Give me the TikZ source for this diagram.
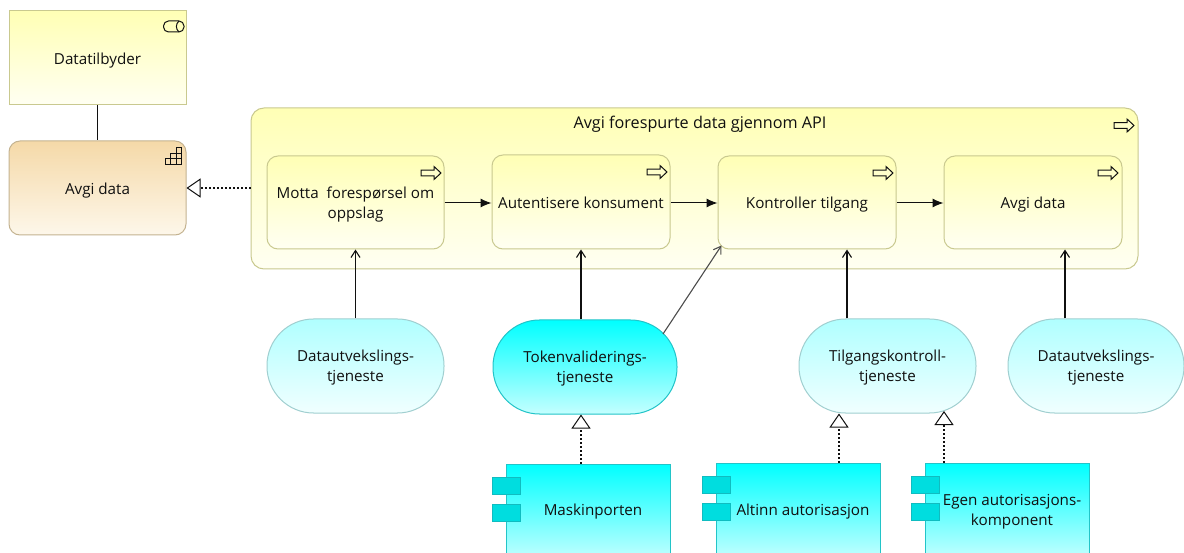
\documentclass[tikz,border=0pt]{standalone}
\usepackage{fontspec}
\setmainfont{Open Sans}
\usetikzlibrary{arrows.meta,calc}
\definecolor{yt}{HTML}{FFFFB5}
\definecolor{yb}{HTML}{FFFFF2}
\definecolor{yl}{HTML}{C9C98F}
\definecolor{ot}{HTML}{F5D9A8}
\definecolor{ob}{HTML}{FDF7EA}
\definecolor{ol}{HTML}{C4B391}
\definecolor{ct}{HTML}{00FFFF}
\definecolor{cb}{HTML}{C4FFFF}
\definecolor{cl}{HTML}{22C4C8}
\definecolor{pt}{HTML}{B0FFFF}
\definecolor{pb}{HTML}{F0FFFF}
\definecolor{pl}{HTML}{A0CFD0}
\definecolor{tabf}{HTML}{00DDDF}
\definecolor{tabl}{HTML}{10BCC0}
\definecolor{ink}{HTML}{101010}
\newcommand\lbl[2][-2.5pt]{\raisebox{#1}[\height][\depth]{\begin{tabular}{@{}c@{}}#2\end{tabular}}}
\tikzset{
  x=1pt,y=-1pt,
  every node/.style={font=\fontsize{15.2}{20}\selectfont,text=ink,inner sep=0pt},
  box/.style={draw=#1,line width=1pt,shape=rectangle},
  sized/.style n args={2}{minimum width=#1,minimum height=#2},
  yellowbox/.style={box=yl,top color=yt,bottom color=yb},
  orangebox/.style={box=ol,top color=ot,bottom color=ob,rounded corners=11pt},
  procbox/.style={yellowbox,rounded corners=11pt},
  palesvc/.style={box=pl,top color=pt,bottom color=pb,rounded corners=46.5pt},
  brightsvc/.style={box=cl,top color=ct,bottom color=cb,rounded corners=46.5pt},
  compbox/.style={box=cl,top color=ct,bottom color=cb},
  tabbox/.style={draw=tabl,fill=tabf,line width=1pt,minimum width=28pt,minimum height=17pt},
  conn/.style={draw=ink,line width=1.1pt},
  flowline/.style={conn,line width=1pt,-{Latex[length=11pt,width=9pt]}},
  serveline/.style={conn,-{Straight Barb[length=7pt,width=9pt]}},
  realizeline/.style={draw=ink,line width=1.1pt,dash pattern=on 2pt off 2pt,-{Triangle[open,fill=white,length=14pt,width=19pt,line width=1pt,sep=0pt]}},
  iconline/.style={draw=ink,line width=1pt},
  pics/procicon/.style={code={
    \draw[iconline,fill=yt!70!white,line join=miter]
      (0,3.7)--(13,3.7)--(13,0)--(20,6.5)--(13,13)--(13,9.3)--(0,9.3)--cycle;
  }}
}
\begin{document}
\begin{tikzpicture}
\useasboundingbox (0,0) rectangle (1184,553);
\begin{scope}
\clip (0,0) rectangle (1184,553);
% left
\node[yellowbox,sized={177pt}{94pt}] (prov) at (97.5,58) {\lbl{Datatilbyder}};
\node[orangebox,sized={177pt}{94pt}] (func) at (97.5,188) {\lbl{Avgi data}};
% outer process
\node[procbox,rounded corners=13pt,sized={887pt}{161pt}] (outer) at (694.5,188.5) {};
\node[font=\fontsize{16.2}{20}\selectfont] (outerlabel) at (700,122.5) {\lbl{Avgi forespurte data gjennom API}};
% inner processes
\node[procbox,sized={177pt}{93pt}] (motta) at (355.5,202.5) {\lbl{Motta\ \ forespørsel om\\oppslag}};
\node[procbox,sized={178pt}{94pt}] (auth) at (581,202) {\lbl{Autentisere konsument}};
\node[procbox,sized={178pt}{93pt}] (ctrl) at (807,202.5) {\lbl{Kontroller tilgang}};
\node[procbox,sized={178pt}{93pt}] (give) at (1033,202.5) {\lbl{Avgi data}};
% services
\node[palesvc,sized={177pt}{94pt}] (svca) at (355.5,366) {\lbl[-1.5pt]{Datautvekslings-\\tjeneste}};
\node[brightsvc,sized={184pt}{94pt}] (svcb) at (585,367) {\lbl[-1.5pt]{Tokenvaliderings-\\tjeneste}};
\node[palesvc,sized={177pt}{94pt}] (svcc) at (887.5,366) {\lbl[-1.5pt]{Tilgangskontroll-\\tjeneste}};
\node[palesvc,sized={176pt}{94pt}] (svcd) at (1096,366) {\lbl[-1.5pt]{Datautvekslings-\\tjeneste}};
% components
\node[compbox,sized={164pt}{96pt}] (maskin) at (588,512) {};
\node[compbox,sized={164pt}{96pt}] (altinn) at (798,511) {};
\node[compbox,sized={164pt}{96pt}] (egen) at (1007,511) {};
\foreach \n/\x/\y in {maskin/506/485.5,altinn/716/484.5,egen/925/484.5}{
  \node[tabbox] (\n tabone) at (\x,\y) {};
  \node[tabbox] (\n tabtwo) at (\x,\y+27) {};
}
\node (maskinlabel) at (593,508.5) {\lbl{Maskinporten}};
\node (altinnlabel) at (803,508.5) {\lbl{Altinn autorisasjon}};
\node (egenlabel) at (1012,508.5) {\lbl{Egen autorisasjons-\\komponent}};
\end{scope}
% connectors
\draw[conn] (prov.south) -- (func.north);
\draw[realizeline] (outer.west |- func.east) -- (func.east);
\draw[flowline] ([yshift=-.5pt]motta.east) -- ([yshift=-.5pt]auth.west |- motta.east);
\draw[flowline] ([yshift=-.5pt]auth.east |- motta.east) -- ([yshift=-.5pt]ctrl.west);
\draw[flowline] ([yshift=-.5pt]ctrl.east) -- ([yshift=-.5pt]give.west);
\draw[serveline] (svca.north) -- (motta.south);
\draw[serveline] (auth.south |- svcb.north) -- (auth.south);
\draw[serveline] ([xshift=40pt]ctrl.south |- svcc.north) -- ([xshift=40pt]ctrl.south);
\draw[serveline] ([xshift=32pt]give.south |- svcd.north) -- ([xshift=32pt]give.south);
\draw[serveline,draw=ink!75] ([shift={(78,-33)}]svcb.center) -- ([shift={(4,-4)}]ctrl.south west);
\draw[realizeline] (auth.south |- maskin.north) -- (auth.south |- svcb.south);
\draw[realizeline] ([xshift=41pt]altinn.north) -- ([xshift=41pt]altinn.north |- svcc.south);
\draw[realizeline] ([xshift=-63pt]egen.north) -- ([shift={(56.5,-2.5)}]svcc.south);
% icons
\draw[iconline,rounded corners=5pt] (163.5,21) rectangle (184,32);
\draw[iconline] (179,21) .. controls (175.5,24) and (175.5,29) .. (179,32);
\draw[iconline] (165,159) rectangle (181.5,164.5) (170.5,153.5) rectangle (181.5,164.5) (176,148) rectangle (181.5,164.5)
  (170.5,159) -- (170.5,164.5) (176,153.5)--(176,164.5);
\pic at (1114,119) {procicon};
\pic at (421,166.5) {procicon};
\pic at (647,165.5) {procicon};
\pic at (873,166.5) {procicon};
\pic at (1098,166.5) {procicon};
\end{tikzpicture}
\end{document}
